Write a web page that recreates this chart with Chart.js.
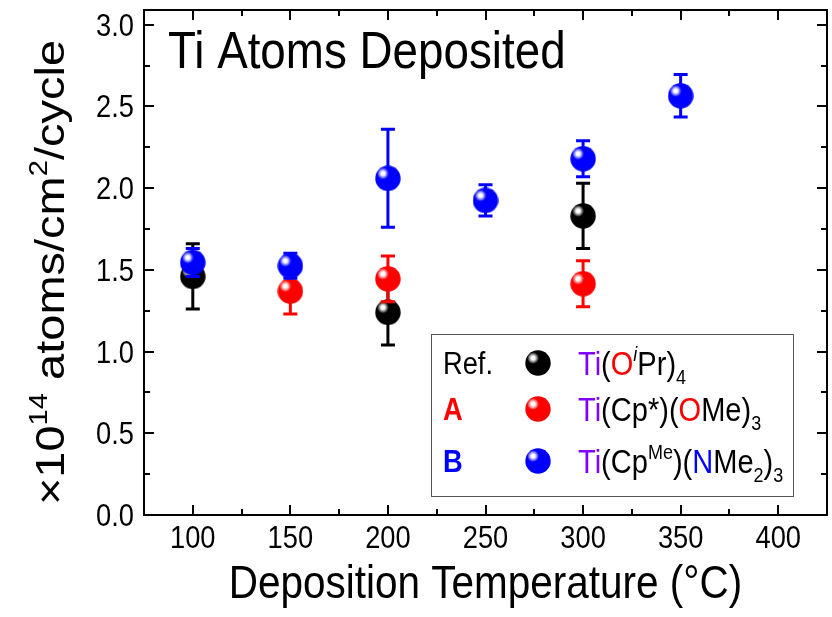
<!DOCTYPE html>
<html>
<head>
<meta charset="utf-8">
<script src="https://cdn.jsdelivr.net/npm/chart.js@4.4.1/dist/chart.umd.min.js"></script>
<style>
  body { margin: 0; background: #fff; }
  #wrap { width: 832px; height: 617px; }
</style>
</head>
<body>
<div id="wrap"><canvas id="grafico" width="832" height="617"></canvas></div>
<script>
// Dados
const refTemps = [100, 200, 300];
const refVals = [1.46, 1.24, 1.83];
const refErr = [0.20, 0.20, 0.20];

const aTemps = [150, 200, 300];
const aVals = [1.37, 1.445, 1.415];
const aErr = [0.14, 0.14, 0.14];

const bTemps = [100, 150, 200, 250, 300, 350];
const bVals = [1.545, 1.525, 2.06, 1.925, 2.18, 2.565];
const bErr = [0.085, 0.077, 0.30, 0.095, 0.11, 0.13];

const xTicks = [100, 150, 200, 250, 300, 350, 400];
const yTicks = [0.0, 0.5, 1.0, 1.5, 2.0, 2.5, 3.0];

const FONTE = '"Liberation Sans", Arial, sans-serif';
const ROXO = '#8000ff';
const APERTO = 0.88; // texto levemente condensado

// Cria a esfera usada como marcador
function criarEsfera(cor, raio) {
    const c = document.createElement('canvas');
    c.width = raio * 2;
    c.height = raio * 2;
    const g = c.getContext('2d');
    const grad = g.createRadialGradient(raio * 0.62, raio * 0.62, 0, raio * 0.62, raio * 0.62, raio * 0.75);
    grad.addColorStop(0, '#ffffff');
    grad.addColorStop(0.18, 'rgba(255,255,255,0.85)');
    grad.addColorStop(0.6, cor);
    grad.addColorStop(1, cor);
    g.fillStyle = grad;
    g.beginPath();
    g.arc(raio, raio, raio - 0.3, 0, Math.PI * 2);
    g.fill();
    return c;
}

const esferas = {
    preto: criarEsfera('#000000', 13),
    vermelho: criarEsfera('#ff0000', 13),
    azul: criarEsfera('#0000ff', 13)
};

function pontos(xs, ys) {
    return xs.map((x, i) => ({ x: x, y: ys[i] }));
}

// Texto condensado
function texto(ctx, str, x, y, tamanho, cor, alinh, peso) {
    ctx.save();
    ctx.translate(x, y);
    ctx.scale(APERTO, 1);
    ctx.font = (peso || '') + ' ' + tamanho + 'px ' + FONTE;
    ctx.fillStyle = cor || '#000';
    ctx.textAlign = alinh || 'left';
    ctx.textBaseline = 'alphabetic';
    ctx.fillText(str, 0, 0);
    ctx.restore();
}

// Texto com partes coloridas, sobrescrito e subscrito
function textoRico(ctx, partes, x, y, tamanho, centro) {
    ctx.save();
    ctx.translate(x, y);
    ctx.scale(APERTO, 1);
    let larg = 0;
    partes.forEach(p => {
        const t = (p.sup || p.sub) ? tamanho * 0.62 : tamanho;
        ctx.font = (p.italic ? 'italic ' : '') + t + 'px ' + FONTE;
        larg += ctx.measureText(p.t).width;
    });
    let cx = centro ? -larg / 2 : 0;
    ctx.textBaseline = 'alphabetic';
    ctx.textAlign = 'left';
    partes.forEach(p => {
        const t = (p.sup || p.sub) ? tamanho * 0.62 : tamanho;
        ctx.font = (p.italic ? 'italic ' : '') + t + 'px ' + FONTE;
        ctx.fillStyle = p.c || '#000';
        let dy = 0;
        if (p.sup) dy = -tamanho * 0.42;
        if (p.sub) dy = tamanho * 0.26;
        ctx.fillText(p.t, cx, dy);
        cx += ctx.measureText(p.t).width;
    });
    ctx.restore();
}

// Barras de erro desenhadas antes dos marcadores de cada série
const barrasErro = {
    id: 'barrasErro',
    beforeDatasetDraw(chart, args) {
        const ds = chart.data.datasets[args.index];
        const meta = args.meta;
        const ys = chart.scales.y;
        const ctx = chart.ctx;
        ctx.save();
        ctx.strokeStyle = ds.corLinha;
        ctx.lineWidth = 3;
        meta.data.forEach((el, i) => {
            const v = ds.data[i].y;
            const e = ds.erros[i];
            const y1 = ys.getPixelForValue(v + e);
            const y2 = ys.getPixelForValue(v - e);
            ctx.beginPath();
            ctx.moveTo(el.x, y1);
            ctx.lineTo(el.x, y2);
            ctx.moveTo(el.x - 7, y1);
            ctx.lineTo(el.x + 7, y1);
            ctx.moveTo(el.x - 7, y2);
            ctx.lineTo(el.x + 7, y2);
            ctx.stroke();
        });
        ctx.restore();
    }
};

// Moldura, marcas, rótulos, títulos e legenda
const moldura = {
    id: 'moldura',
    afterDraw(chart) {
        const ctx = chart.ctx;
        const a = chart.chartArea;
        const xs = chart.scales.x;
        const ys = chart.scales.y;
        ctx.save();
        ctx.strokeStyle = '#000';
        ctx.lineWidth = 2;
        ctx.strokeRect(a.left, a.top, a.right - a.left, a.bottom - a.top);

        ctx.beginPath();
        for (let v = 75; v <= 425; v += 25) {
            const px = Math.round(xs.getPixelForValue(v));
            const len = (v % 50 === 0) ? 10 : 6;
            ctx.moveTo(px, a.bottom);
            ctx.lineTo(px, a.bottom - len);
            ctx.moveTo(px, a.top);
            ctx.lineTo(px, a.top + len);
        }
        for (let v = 0; v <= 3.0001; v += 0.25) {
            const py = Math.round(ys.getPixelForValue(v));
            const len = (Math.round(v * 100) % 50 === 0) ? 10 : 6;
            ctx.moveTo(a.left, py);
            ctx.lineTo(a.left + len, py);
            ctx.moveTo(a.right, py);
            ctx.lineTo(a.right - len, py);
        }
        ctx.stroke();

        xTicks.forEach(v => {
            texto(ctx, String(v), xs.getPixelForValue(v), a.bottom + 33, 31, '#000', 'center');
        });
        yTicks.forEach(v => {
            texto(ctx, v.toFixed(1), a.left - 10, ys.getPixelForValue(v) + 11, 31, '#000', 'right');
        });

        // títulos dos eixos
        texto(ctx, 'Deposition Temperature (°C)', (a.left + a.right) / 2, 598, 46, '#000', 'center');
        ctx.save();
        ctx.translate(64, (a.top + a.bottom) / 2 + 10);
        ctx.rotate(-Math.PI / 2);
        ctx.scale(1 / APERTO, APERTO);
        textoRico(ctx, [
            { t: '×10' }, { t: '14', sup: true }, { t: ' atoms/cm' }, { t: '2', sup: true }, { t: '/cycle' }
        ], 0, 0, 47, true);
        ctx.restore();

        // título interno
        texto(ctx, 'Ti Atoms Deposited', 168, 68, 52, '#000', 'left');

        // legenda
        ctx.lineWidth = 1;
        ctx.strokeStyle = '#555';
        ctx.strokeRect(431.5, 334.5, 362, 162);
        const linhas = [
            { rot: 'Ref.', cor: '#000', peso: '', esf: esferas.preto, y: 363,
              f: [{ t: 'Ti', c: ROXO }, { t: '(' }, { t: 'O', c: '#ff0000' }, { t: 'i', sup: true, italic: true }, { t: 'Pr)' }, { t: '4', sub: true }] },
            { rot: 'A', cor: '#ff0000', peso: 'bold', esf: esferas.vermelho, y: 409,
              f: [{ t: 'Ti', c: ROXO }, { t: '(Cp*)(' }, { t: 'O', c: '#ff0000' }, { t: 'Me)' }, { t: '3', sub: true }] },
            { rot: 'B', cor: '#0000ff', peso: 'bold', esf: esferas.azul, y: 461,
              f: [{ t: 'Ti', c: ROXO }, { t: '(Cp' }, { t: 'Me', sup: true }, { t: ')(' }, { t: 'N', c: '#0000ff' }, { t: 'Me' }, { t: '2', sub: true }, { t: ')' }, { t: '3', sub: true }] }
        ];
        linhas.forEach(l => {
            texto(ctx, l.rot, 443, l.y + 11, 31, l.cor, 'left', l.peso);
            ctx.drawImage(l.esf, 538 - 13, l.y - 13);
            textoRico(ctx, l.f, 578, l.y + 12, 33, false);
        });
        ctx.restore();
    }
};

function inicializarGrafico() {
    const ctx = document.getElementById('grafico').getContext('2d');
    new Chart(ctx, {
        type: 'scatter',
        data: {
            datasets: [
                {
                    label: 'Ref.',
                    data: pontos(refTemps, refVals),
                    erros: refErr,
                    corLinha: '#000000',
                    pointStyle: esferas.preto,
                    order: 3
                },
                {
                    label: 'A',
                    data: pontos(aTemps, aVals),
                    erros: aErr,
                    corLinha: '#ff0000',
                    pointStyle: esferas.vermelho,
                    order: 2
                },
                {
                    label: 'B',
                    data: pontos(bTemps, bVals),
                    erros: bErr,
                    corLinha: '#0000ff',
                    pointStyle: esferas.azul,
                    order: 1
                }
            ]
        },
        options: {
            responsive: false,
            animation: false,
            devicePixelRatio: 1,
            layout: { padding: { left: 144, top: 10, right: 3, bottom: 102 } },
            plugins: {
                legend: { display: false },
                tooltip: { enabled: false }
            },
            scales: {
                x: { type: 'linear', min: 75, max: 425, display: false },
                y: { type: 'linear', min: 0, max: 3.09, display: false }
            },
            clip: false
        },
        plugins: [barrasErro, moldura]
    });
}

document.addEventListener('DOMContentLoaded', inicializarGrafico);
</script>
</body>
</html>
